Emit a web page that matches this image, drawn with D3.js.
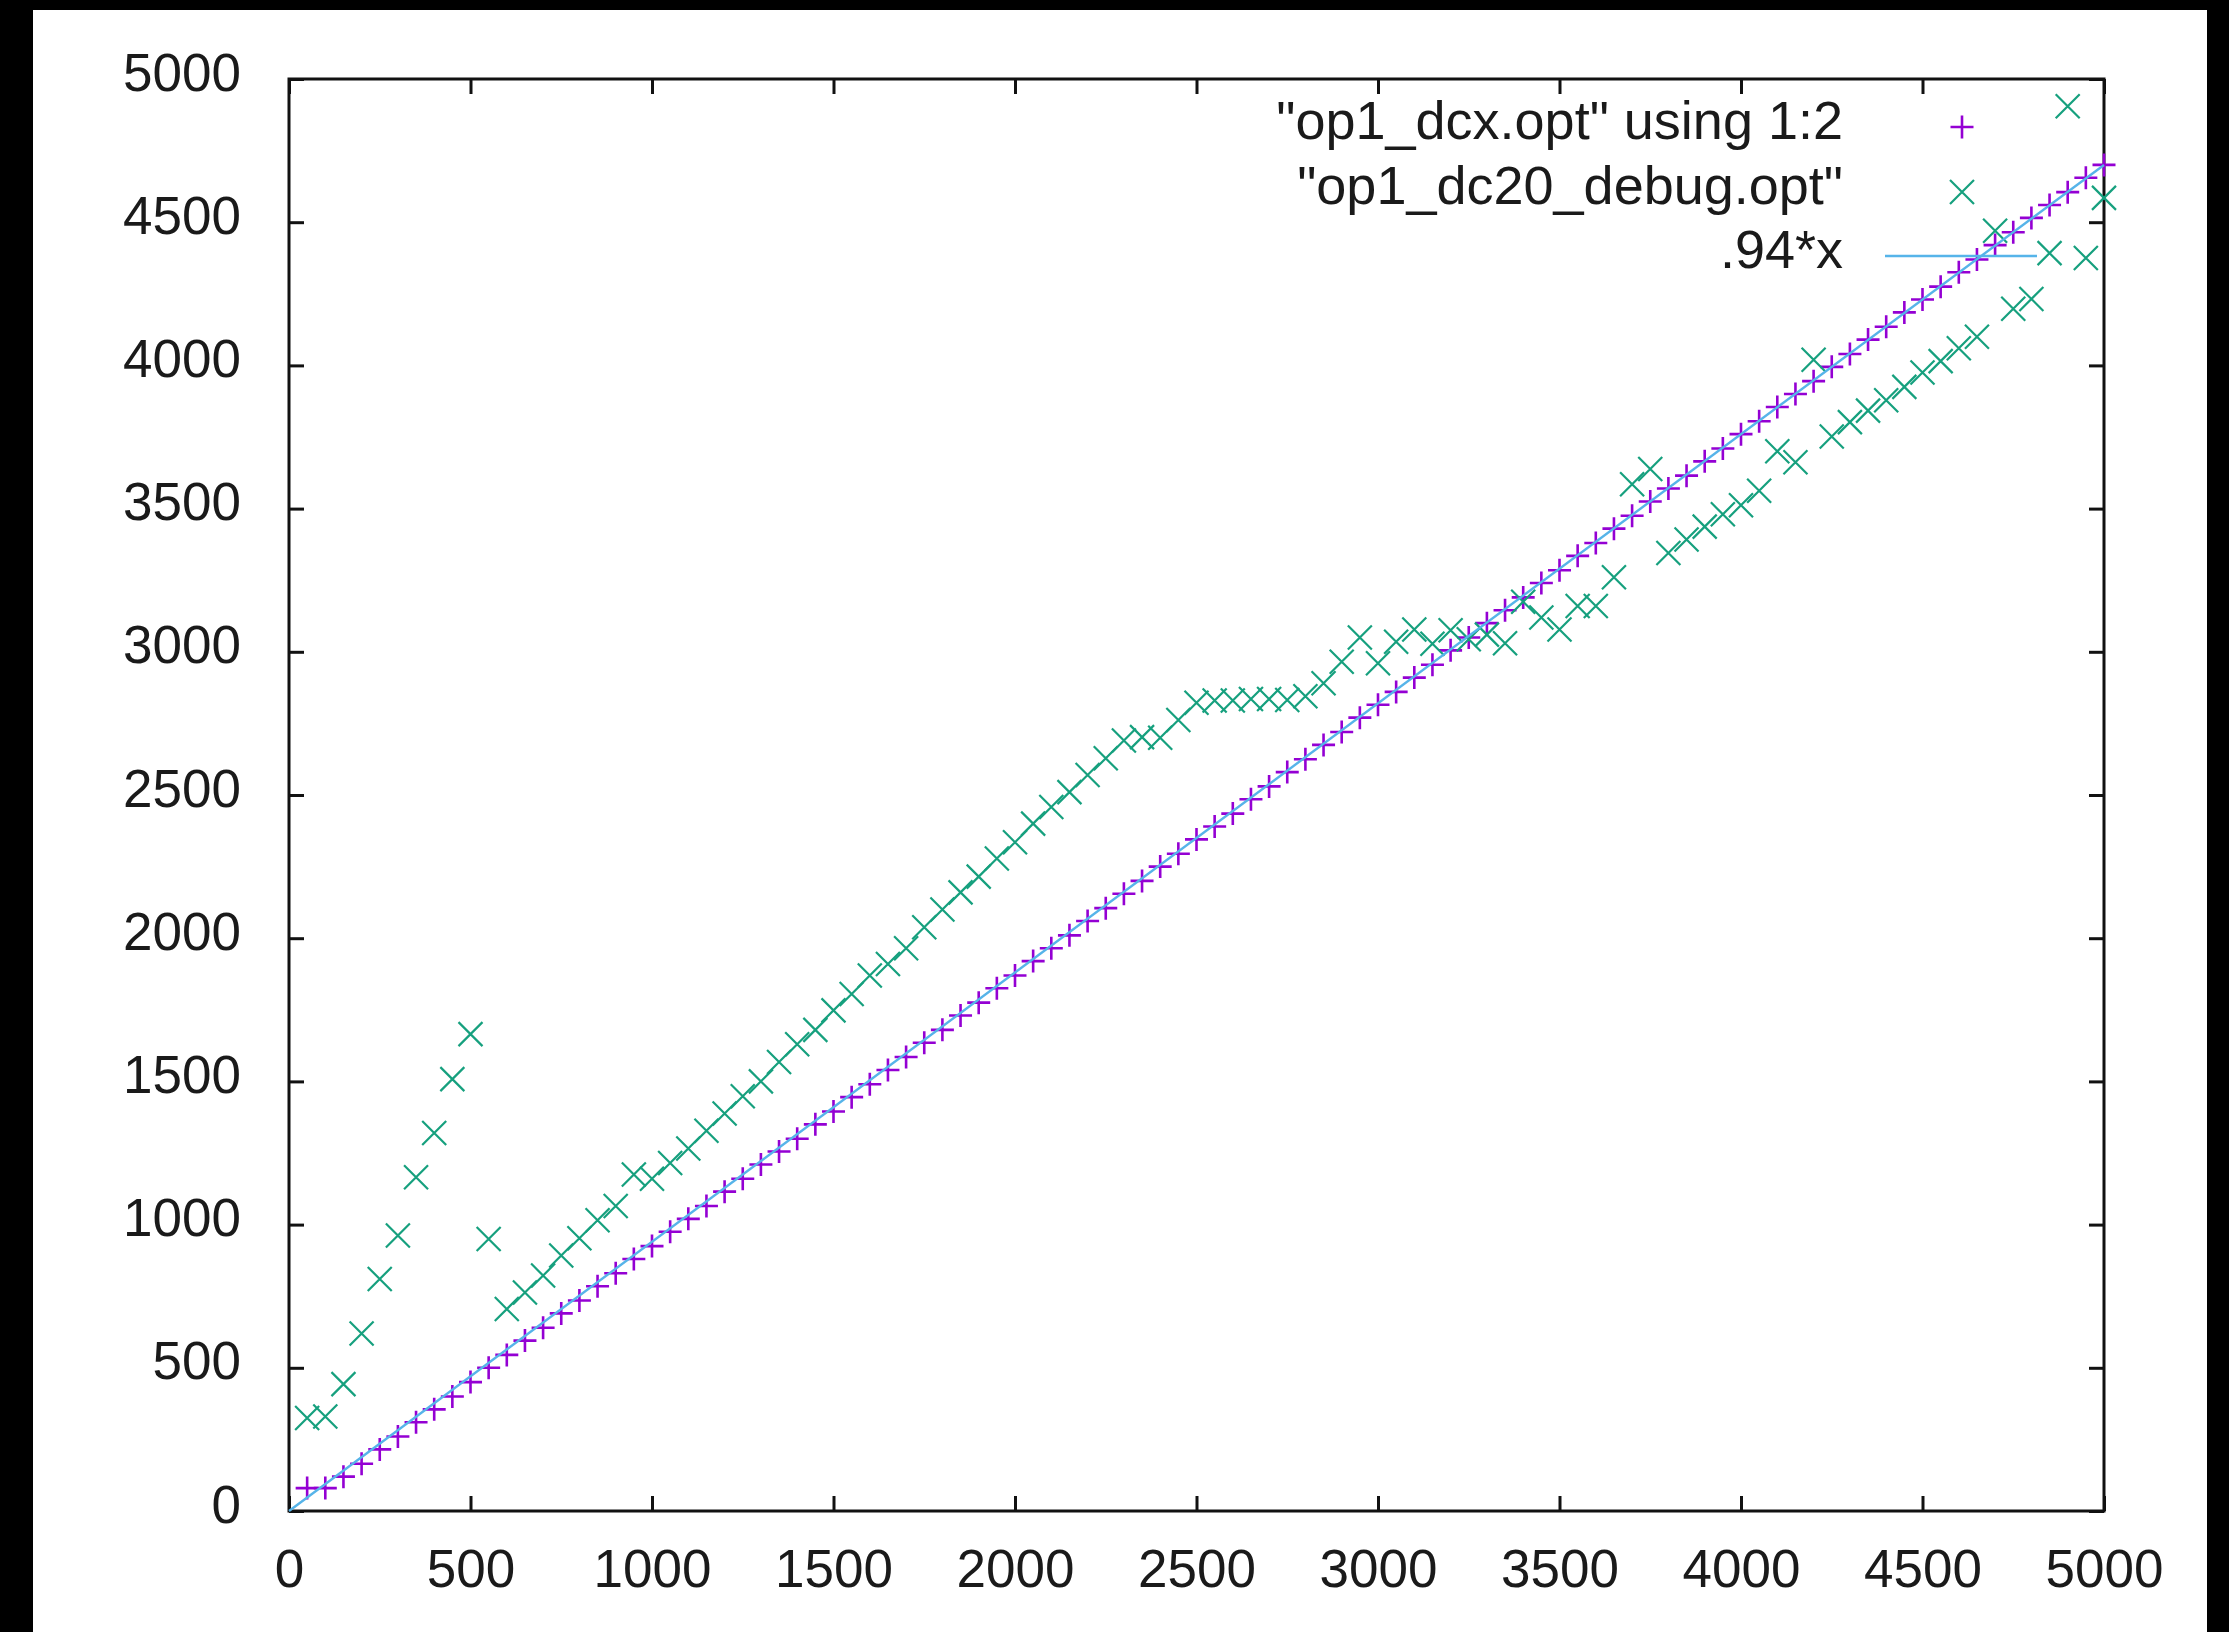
<!DOCTYPE html>
<html>
<head>
<meta charset="utf-8">
<script src="https://cdn.jsdelivr.net/npm/d3@7/dist/d3.min.js"></script>
<style>
  html, body { margin: 0; padding: 0; background: #fff; overflow: hidden; }
  svg { display: block; }
  svg text { font-family: "Liberation Sans", Arial, sans-serif; fill: #1a1a1a; }
</style>
</head>
<body>
<div id="chart"></div>
<script>
// data
const xValues = [
  50, 100, 150, 200, 250, 300, 350, 400, 450, 500,
  550, 600, 650, 700, 750, 800, 850, 900, 950, 1000,
  1050, 1100, 1150, 1200, 1250, 1300, 1350, 1400, 1450, 1500,
  1550, 1600, 1650, 1700, 1750, 1800, 1850, 1900, 1950, 2000,
  2050, 2100, 2150, 2200, 2250, 2300, 2350, 2400, 2450, 2500,
  2550, 2600, 2650, 2700, 2750, 2800, 2850, 2900, 2950, 3000,
  3050, 3100, 3150, 3200, 3250, 3300, 3350, 3400, 3450, 3500,
  3550, 3600, 3650, 3700, 3750, 3800, 3850, 3900, 3950, 4000,
  4050, 4100, 4150, 4200, 4250, 4300, 4350, 4400, 4450, 4500,
  4550, 4600, 4650, 4700, 4750, 4800, 4850, 4900, 4950, 5000
];

// "op1_dcx.opt" using 1:2  (purple +)
const dcxValues = [
  80, 80, 120, 165, 215, 260, 310, 355, 400, 450,
  500, 545, 595, 640, 690, 735, 785, 830, 880, 925,
  975, 1020, 1065, 1115, 1160, 1210, 1255, 1300, 1350, 1395,
  1445, 1490, 1540, 1585, 1635, 1680, 1730, 1775, 1825, 1870,
  1920, 1965, 2010, 2060, 2105, 2155, 2200, 2250, 2295, 2345,
  2390, 2435, 2485, 2530, 2580, 2625, 2675, 2720, 2770, 2815,
  2860, 2910, 2955, 3005, 3050, 3100, 3145, 3190, 3240, 3285,
  3335, 3380, 3430, 3475, 3525, 3570, 3615, 3665, 3710, 3760,
  3805, 3855, 3900, 3945, 3995, 4040, 4090, 4135, 4185, 4230,
  4275, 4325, 4370, 4420, 4465, 4515, 4560, 4605, 4655, 4700
];

// "op1_dc20_debug.opt"  (teal x)
const debugValues = [
  325, 330, 443, 620, 810, 962, 1165, 1320, 1508, 1665,
  950, 705, 763, 822, 892, 952, 1015, 1065, 1175, 1160,
  1215, 1266, 1328, 1388, 1448, 1500, 1568, 1630, 1680, 1748,
  1805, 1870, 1910, 1965, 2038, 2100, 2160, 2215, 2278, 2335,
  2400, 2458, 2510, 2570, 2628, 2690, 2702, 2700, 2762, 2822,
  2830, 2830, 2835, 2835, 2832, 2845, 2890, 2965, 3050, 2960,
  3035, 3078, 3028, 3075, 3044, 3060, 3030, 3175, 3120, 3078,
  3160, 3160, 3260, 3585, 3638, 3345, 3392, 3437, 3480, 3512,
  3562, 3700, 3662, 4020, 3752, 3802, 3842, 3878, 3925, 3975,
  4015, 4060, 4100, 4470, 4198, 4232, 4392, 4905, 4375, 4585
];

const fitSlope = 0.94;           // ".94*x"
const fitRange = [0, 5000];
const xTicks = d3.range(0, 5001, 500);
const yTicks = d3.range(0, 5001, 500);
const legendNames = ['"op1_dcx.opt" using 1:2', '"op1_dc20_debug.opt"', '.94*x'];

const colors = { dcx: "#9400d3", debug: "#16a07e", fit: "#56b4e9" };

const width = 2229;
const height = 1632;
const margin = { left: 289, top: 79, right: 2229 - 2104, bottom: 1632 - 1511 };
const innerWidth = width - margin.left - margin.right;
const innerHeight = height - margin.top - margin.bottom;

const svg = d3.select("#chart")
  .append("svg")
  .attr("width", width)
  .attr("height", height);

// picture has black strips on left, top and right
svg.append("rect").attr("x", 0).attr("y", 0).attr("width", width).attr("height", height).attr("fill", "#000");
svg.append("rect").attr("x", 33).attr("y", 10).attr("width", 2207 - 33).attr("height", height - 10).attr("fill", "#fff");

const inner = svg.append("g")
  .attr("transform", `translate(${margin.left}, ${margin.top})`);

const xScale = d3.scaleLinear().domain([0, 5000]).range([0, innerWidth]);
const yScale = d3.scaleLinear().domain([0, 5000]).range([innerHeight, 0]);

// axes (ticks point inward, mirrored on top/right)
const fontSize = 53;
const tickLen = 15;

const xAxis = inner.append("g")
  .attr("transform", `translate(0, ${innerHeight})`)
  .call(d3.axisBottom(xScale).tickValues(xTicks).tickSize(-tickLen).tickSizeOuter(0).tickFormat(d3.format("d")));
xAxis.selectAll("text")
  .attr("y", 76).attr("dy", null)
  .style("font-size", fontSize + "px");

const yAxis = inner.append("g")
  .call(d3.axisLeft(yScale).tickValues(yTicks).tickSize(-tickLen).tickSizeOuter(0).tickFormat(d3.format("d")));
yAxis.selectAll("text")
  .attr("x", -48).attr("dy", null).attr("y", 11)
  .style("font-size", fontSize + "px");

const topAxis = inner.append("g")
  .call(d3.axisTop(xScale).tickValues(xTicks).tickSize(-tickLen).tickSizeOuter(0));
const rightAxis = inner.append("g")
  .attr("transform", `translate(${innerWidth}, 0)`)
  .call(d3.axisRight(yScale).tickValues(yTicks).tickSize(-tickLen).tickSizeOuter(0));
// mirror axes: ticks only
topAxis.selectAll("text").remove();
rightAxis.selectAll("text").remove();

inner.selectAll(".tick line").attr("stroke", "#111").attr("stroke-width", 3);
inner.selectAll(".domain").remove();

inner.append("rect")
  .attr("width", innerWidth)
  .attr("height", innerHeight)
  .attr("fill", "none")
  .attr("stroke", "#111")
  .attr("stroke-width", 3);

// point symbols
const plusPath = "M-11.5,0H11.5M0,-11.5V11.5";
const crossPath = "M-12,-12L12,12M-12,12L12,-12";

const dcxData = xValues.map((x, i) => ({ x, y: dcxValues[i] }));
const debugData = xValues.map((x, i) => ({ x, y: debugValues[i] }));

inner.selectAll(".dcx")
  .data(dcxData)
  .join("path")
  .attr("class", "dcx")
  .attr("transform", d => `translate(${xScale(d.x)}, ${yScale(d.y)})`)
  .attr("d", plusPath)
  .attr("stroke", colors.dcx)
  .attr("stroke-width", 2.6)
  .attr("fill", "none");

inner.selectAll(".debug")
  .data(debugData)
  .join("path")
  .attr("class", "debug")
  .attr("transform", d => `translate(${xScale(d.x)}, ${yScale(d.y)})`)
  .attr("d", crossPath)
  .attr("stroke", colors.debug)
  .attr("stroke-width", 2.2)
  .attr("fill", "none");

// fitted line .94*x, drawn last like gnuplot
const line = d3.line()
  .x(d => xScale(d))
  .y(d => yScale(fitSlope * d));

inner.append("path")
  .datum(fitRange)
  .attr("d", line)
  .attr("stroke", colors.fit)
  .attr("stroke-width", 2.4)
  .attr("fill", "none");

// legend (top right, text right-aligned)
const legendRows = [127, 192, 256];
const legend = svg.append("g");

legend.selectAll("text")
  .data(legendNames)
  .join("text")
  .attr("x", 1843)
  .attr("y", (d, i) => legendRows[i] + 12)
  .attr("text-anchor", "end")
  .style("font-size", "54px")
  .text(d => d);

legend.append("path")
  .attr("transform", `translate(1962, ${legendRows[0]})`)
  .attr("d", plusPath)
  .attr("stroke", colors.dcx)
  .attr("stroke-width", 2.6)
  .attr("fill", "none");

legend.append("path")
  .attr("transform", `translate(1962, ${legendRows[1]})`)
  .attr("d", crossPath)
  .attr("stroke", colors.debug)
  .attr("stroke-width", 2.2)
  .attr("fill", "none");

legend.append("line")
  .attr("x1", 1885).attr("x2", 2037)
  .attr("y1", legendRows[2]).attr("y2", legendRows[2])
  .attr("stroke", colors.fit)
  .attr("stroke-width", 2.4);
</script>
</body>
</html>
